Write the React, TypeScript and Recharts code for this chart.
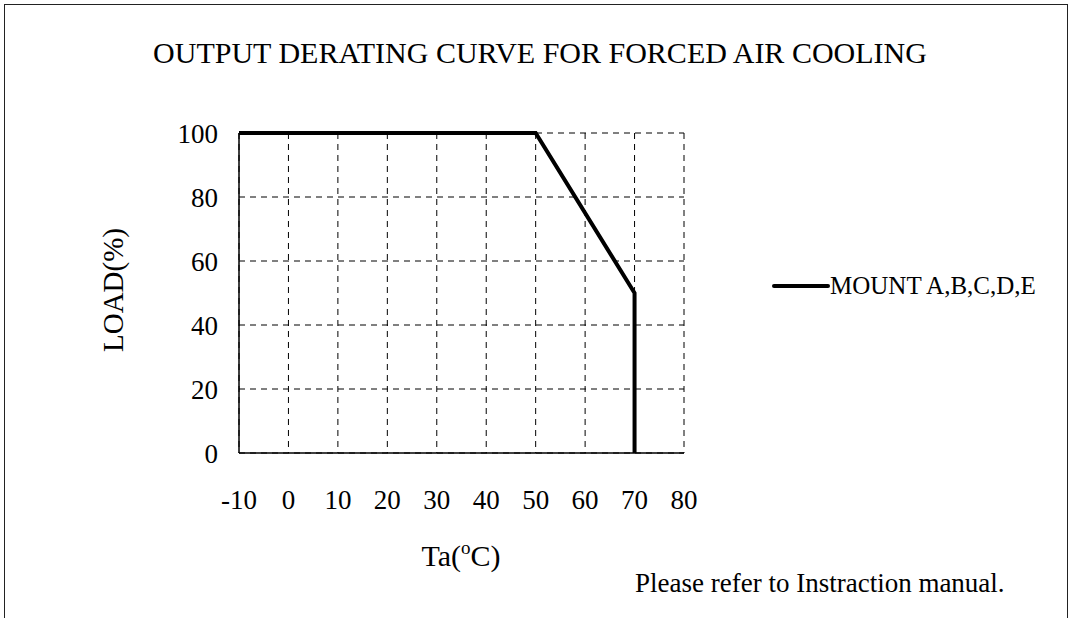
import { LineChart, Line, XAxis, YAxis, CartesianGrid, Legend, Customized } from "recharts";

// derating curve
const TEMPS = [-10, 50, 70, 70];
const LOADS = [100, 100, 50, 0];
const X_TICKS = [-10, 0, 10, 20, 30, 40, 50, 60, 70, 80];
const Y_TICKS = [0, 20, 40, 60, 80, 100];
const SERIES_NAME = "MOUNT A,B,C,D,E";

const data = TEMPS.map((t, i) => ({ ta: t, load: LOADS[i] }));

const FONT = '"Liberation Serif", "Times New Roman", serif';

function Texts() {
  return (
    <g fontFamily={FONT} fill="#000">
      <text x={540} y={63} fontSize={30} textAnchor="middle">
        OUTPUT DERATING CURVE FOR FORCED AIR COOLING
      </text>
      <text
        x={113}
        y={290}
        fontSize={29}
        textAnchor="middle"
        dominantBaseline="central"
        transform="rotate(-90, 113, 290)"
      >
        LOAD(%)
      </text>
      <text x={461} y={566} fontSize={30} textAnchor="middle">
        Ta(<tspan fontSize={19} dy={-12}>o</tspan>
        <tspan dy={12}>C)</tspan>
      </text>
      <text x={635} y={592} fontSize={27}>
        Please refer to Instraction manual.
      </text>
    </g>
  );
}

function LegendBox() {
  return (
    <div style={{ display: "flex", alignItems: "center", fontFamily: FONT, fontSize: 25, whiteSpace: "nowrap" }}>
      <svg width={58} height={10} style={{ display: "block" }}>
        <line x1={2} y1={5} x2={56} y2={5} stroke="#000" strokeWidth={4} strokeLinecap="round" />
      </svg>
      <span>{SERIES_NAME}</span>
    </div>
  );
}

export default function App() {
  return (
    <div style={{ position: "absolute", left: 0, top: 0, width: 1071, height: 618, overflow: "hidden", background: "#fff" }}>
      <div
        style={{
          position: "absolute",
          left: 4,
          top: 4,
          width: 1062,
          height: 640,
          borderLeft: "1.5px solid #222",
          borderTop: "1.5px solid #222",
          borderRight: "1.5px solid #222",
        }}
      />
      <div style={{ position: "absolute", left: 0, top: 0 }}>
        <LineChart width={1071} height={618} data={data} margin={{ top: 133, left: 179, right: 387, bottom: 105 }}>
          <CartesianGrid stroke="#000" strokeWidth={1} strokeDasharray="6 5" />
          <XAxis
            type="number"
            dataKey="ta"
            domain={[-10, 80]}
            ticks={X_TICKS}
            height={60}
            stroke="#000"
            strokeWidth={1.5}
            tickLine={false}
            tickSize={0}
            tickMargin={37}
            tick={{ fill: "#000", fontSize: 27, fontFamily: FONT }}
            interval={0}
          />
          <YAxis
            type="number"
            domain={[0, 100]}
            ticks={Y_TICKS}
            width={60}
            stroke="#000"
            strokeWidth={1.5}
            tickLine={false}
            tickSize={0}
            tickMargin={21}
            tick={{ fill: "#000", fontSize: 27, fontFamily: FONT }}
            interval={0}
          />
          <Line
            type="linear"
            dataKey="load"
            name={SERIES_NAME}
            stroke="#000"
            strokeWidth={4}
            dot={false}
            isAnimationActive={false}
          />
          <Legend
            layout="vertical"
            align="center"
            verticalAlign="middle"
            content={<LegendBox />}
            wrapperStyle={{ left: 772, top: 272, width: "auto" }}
          />
          <Customized component={<Texts />} />
        </LineChart>
      </div>
    </div>
  );
}
